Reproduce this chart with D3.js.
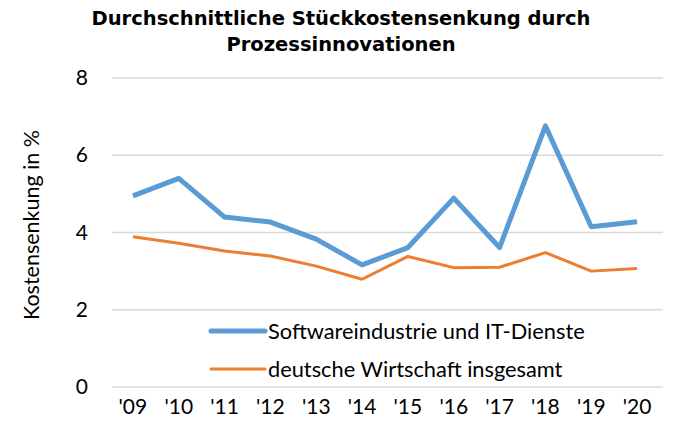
<!DOCTYPE html>
<html>
<head>
<meta charset="utf-8">
<script src="https://cdn.jsdelivr.net/npm/d3@7"></script>
<style>
  body { margin: 0; background: #fff; }
  text { font-family: Lato, "Open Sans", sans-serif; fill: #000; }
  .title { font-family: "DejaVu Sans", Verdana, sans-serif; font-weight: bold; font-size: 19.5px; }
  .grid line { stroke: #d9d9d9; stroke-width: 1.3; }
</style>
</head>
<body>
<div id="container"></div>
<script>
/* CONSTANTS AND GLOBALS */
const width = 675,
  height = 428,
  margin = { top: 78, bottom: 41, left: 110, right: 15 }

/* DATA */
const years = ["'09", "'10", "'11", "'12", "'13", "'14", "'15", "'16", "'17", "'18", "'19", "'20"]
const software = [4.95, 5.40, 4.40, 4.27, 3.83, 3.16, 3.61, 4.89, 3.61, 6.76, 4.15, 4.28]
const gesamt = [3.89, 3.72, 3.52, 3.39, 3.13, 2.79, 3.38, 3.09, 3.10, 3.48, 3.00, 3.07]
const yTicks = [0, 2, 4, 6, 8]
const seriesNames = ["Softwareindustrie und IT-Dienste", "deutsche Wirtschaft insgesamt"]

const series = [
  { name: seriesNames[0], values: software, color: "#5b9bd5", w: 5 },
  { name: seriesNames[1], values: gesamt, color: "#ed7d31", w: 3 }
]

// SCALES
const xScale = d3.scaleBand()
  .domain(years)
  .range([margin.left, width - margin.right])

const yScale = d3.scaleLinear()
  .domain([0, 8])
  .range([height - margin.bottom, margin.top])

const svg = d3.select("#container")
  .append("svg")
  .attr("width", width)
  .attr("height", height)

// TITLE
svg.append("text")
  .attr("class", "title")
  .attr("text-anchor", "middle")
  .attr("x", 341)
  .attr("y", 25)
  .text("Durchschnittliche Stückkostensenkung durch")
svg.append("text")
  .attr("class", "title")
  .attr("text-anchor", "middle")
  .attr("x", 341)
  .attr("y", 51)
  .text("Prozessinnovationen")

// GRID
svg.append("g")
  .attr("class", "grid")
  .selectAll("line")
  .data(yTicks)
  .join("line")
  .attr("x1", margin.left + 2)
  .attr("x2", width - margin.right + 3)
  .attr("y1", d => yScale(d))
  .attr("y2", d => yScale(d))

// AXES
const yAxis = d3.axisLeft(yScale).tickValues(yTicks).tickSize(0).tickPadding(0)
svg.append("g")
  .attr("transform", `translate(${88}, 0)`)
  .call(yAxis)
  .call(g => g.select(".domain").remove())
  .selectAll("text")
  .style("font-size", "21px")

const xAxis = d3.axisBottom(xScale).tickSize(0).tickPadding(0)
svg.append("g")
  .attr("transform", `translate(0, ${height - 29})`)
  .call(xAxis)
  .call(g => g.select(".domain").remove())
  .selectAll("text")
  .style("font-size", "21px")

svg.append("text")
  .attr("transform", `translate(${39}, ${225}) rotate(-90)`)
  .attr("text-anchor", "middle")
  .style("font-size", "21.5px")
  .text("Kostensenkung in %")

// LINES
const lineGen = d3.line()
  .x((d, i) => xScale(years[i]) + xScale.bandwidth() / 2)
  .y(d => yScale(d))

svg.selectAll(".line")
  .data(series)
  .join("path")
  .attr("class", "line")
  .attr("fill", "none")
  .attr("stroke", d => d.color)
  .attr("stroke-width", d => d.w)
  .attr("stroke-linejoin", "round")
  .attr("d", d => lineGen(d.values))

// LEGEND
const legend = svg.append("g")
  .selectAll("g")
  .data(series)
  .join("g")
  .attr("transform", (d, i) => `translate(${211}, ${331 + i * 38})`)

legend.append("line")
  .attr("x1", 0)
  .attr("x2", 54)
  .attr("stroke", d => d.color)
  .attr("stroke-width", d => d.w)
  .attr("stroke-linecap", "round")

legend.append("text")
  .attr("x", 57)
  .attr("dy", "0.35em")
  .style("font-size", "21.8px")
  .text(d => d.name)
</script>
</body>
</html>
